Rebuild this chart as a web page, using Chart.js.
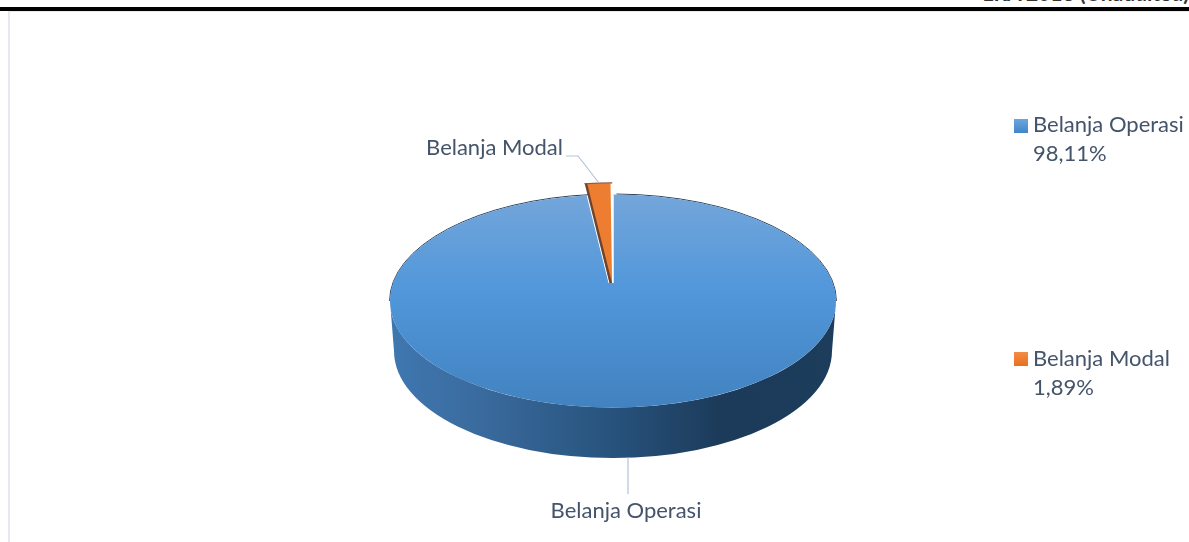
<!DOCTYPE html>
<html>
<head>
<meta charset="utf-8">
<style>
  html, body { margin: 0; padding: 0; background: #fff; overflow: hidden; }
  #wrap { position: relative; width: 1189px; height: 542px; overflow: hidden; }
  #topText { position: absolute; right: 0; top: -20px; font: bold 21px Lato, sans-serif; color: #333; white-space: nowrap; }
  #topRule { position: absolute; left: 0; right: 0; top: 7px; height: 3.5px; background: #000; }
  #frameTop { position: absolute; left: 9px; right: 0; top: 10.5px; height: 1px; background: #e6eaf0; }
  #frameLeft { position: absolute; left: 8px; top: 11px; bottom: 0; width: 2px; background: #e6eaf0; }
  canvas { position: absolute; left: 0; top: 0; }
</style>
</head>
<body>
<div id="wrap">
  <div id="topText">LRA 2018 (Unaudited)</div>
  <div id="topRule"></div>
  <div id="frameTop"></div>
  <div id="frameLeft"></div>
  <canvas id="js-chart-belanja" width="1189" height="542"></canvas>
</div>
<script src="https://cdn.jsdelivr.net/npm/chart.js@4/dist/chart.umd.min.js"></script>
<script>
// Chart data
const categories = ['Belanja Operasi', 'Belanja Modal'];
const shareValues = [98.11, 1.89];
const shareLabels = ['98,11%', '1,89%'];
const sliceColors = ['#5296d8', '#ed7d31'];

const labelFont = '22px Lato, sans-serif';
const textColor = '#44546a';
const pieRadius = 223;
const squash = 0.478;    // pie tilt, height / width of the top face
const wallDepth = 50;

function faceGradient(ctx, y, r) {
  const g = ctx.createLinearGradient(0, y - r, 0, y + r);
  g.addColorStop(0, '#74a6da');
  g.addColorStop(0.45, '#5197da');
  g.addColorStop(1, '#4282c0');
  return g;
}

function swatchGradient(ctx, top, size, from, to) {
  const g = ctx.createLinearGradient(0, top, 0, top + size);
  g.addColorStop(0, from);
  g.addColorStop(1, to);
  return g;
}

// Tilts the flat pie and draws the side wall under it
const tiltPlugin = {
  id: 'tilt',
  beforeDatasetsDraw(chart) {
    const ctx = chart.ctx;
    const arc = chart.getDatasetMeta(0).data[0];
    const x = arc.x, y = arc.y, r = arc.outerRadius;

    // side wall
    const wall = ctx.createLinearGradient(x - r, 0, x + r, 0);
    wall.addColorStop(0, '#3f77b0');
    wall.addColorStop(0.2, '#3a6b9e');
    wall.addColorStop(0.5, '#27527c');
    wall.addColorStop(0.75, '#1c3a59');
    wall.addColorStop(1, '#1d3d5d');
    ctx.save();
    ctx.fillStyle = wall;
    ctx.beginPath();
    ctx.ellipse(x, y, r, r * squash, 0, Math.PI, 0, true);
    ctx.ellipse(x, y + wallDepth, r - 4, r * squash + 0.5, 0, 0, Math.PI);
    ctx.closePath();
    ctx.fill();
    ctx.restore();

    // thin dark rim at the back
    ctx.save();
    ctx.strokeStyle = '#2a4058';
    ctx.lineWidth = 1;
    ctx.beginPath();
    ctx.ellipse(x, y, r + 0.4, r * squash + 0.4, 0, Math.PI * 1.0, Math.PI * 1.47);
    ctx.stroke();
    ctx.beginPath();
    ctx.ellipse(x, y, r + 0.4, r * squash + 0.4, 0, Math.PI * 1.505, Math.PI * 2);
    ctx.stroke();
    ctx.restore();

    ctx.save();
    ctx.translate(0, y);
    ctx.scale(1, squash);
    ctx.translate(0, -y);
  },
  afterDatasetsDraw(chart) {
    const ctx = chart.ctx;

    // dark cut face on the left of the lifted slice, and its back edge
    const slice = chart.getDatasetMeta(0).data[1];
    const shift = slice.options.offset / 4;
    const mid = (slice.startAngle + slice.endAngle) / 2;
    const sx = slice.x + Math.cos(mid) * shift + 1.5;
    const sy = slice.y + Math.sin(mid) * shift;
    const sr = slice.outerRadius + shift;
    ctx.save();
    ctx.strokeStyle = '#6a4430';
    ctx.lineWidth = 2.5;
    ctx.beginPath();
    ctx.moveTo(sx + Math.cos(slice.startAngle) * sr, sy + Math.sin(slice.startAngle) * sr);
    ctx.lineTo(sx, sy);
    ctx.stroke();
    ctx.lineWidth = 2.5;
    ctx.strokeStyle = '#8a5a3e';
    ctx.beginPath();
    ctx.arc(sx - 1.5, sy, sr - 1, slice.startAngle, slice.endAngle);
    ctx.stroke();
    ctx.restore();

    ctx.restore();

    const arc = chart.getDatasetMeta(0).data[0];
    const x = arc.x, y = arc.y, r = arc.outerRadius;

    // the notch closes above the ellipse centre because of the perspective
    ctx.save();
    ctx.beginPath();
    ctx.rect(x - 40, y - 18, 80, 40);
    ctx.clip();
    ctx.translate(0, y);
    ctx.scale(1, squash);
    ctx.translate(0, -y);
    ctx.fillStyle = faceGradient(ctx, y, r);
    ctx.beginPath();
    ctx.arc(x, y, r, 0, Math.PI * 2);
    ctx.fill();
    ctx.restore();

    // white seam right of the lifted slice
    ctx.save();
    ctx.strokeStyle = '#ffffff';
    ctx.lineWidth = 1.5;
    ctx.beginPath();
    ctx.moveTo(x, y - r * squash);
    ctx.lineTo(x, y - 18);
    ctx.stroke();
    ctx.restore();
  }
};

// Category labels with their leader lines, and the legend on the right
const labelPlugin = {
  id: 'labels',
  afterDraw(chart) {
    const ctx = chart.ctx;
    const arc = chart.getDatasetMeta(0).data[0];
    const y = arc.y, r = arc.outerRadius;

    ctx.save();
    ctx.font = labelFont;
    ctx.fillStyle = textColor;
    ctx.textBaseline = 'middle';

    ctx.textAlign = 'center';
    ctx.fillText(categories[0], 626, 511);
    ctx.textAlign = 'right';
    ctx.fillText(categories[1], 563, 148);

    ctx.strokeStyle = '#b4c3d6';
    ctx.lineWidth = 1.2;
    ctx.beginPath();
    ctx.moveTo(628, y + r * squash + wallDepth);
    ctx.lineTo(628, 494);
    ctx.moveTo(566, 156);
    ctx.lineTo(578, 156);
    ctx.lineTo(599, 183);
    ctx.stroke();

    // legend
    const legendY = [125, 359];
    const swatchTop = [119, 352];
    const swatchShades = [['#6ea6dc', '#3f86ca'], ['#f28c47', '#ea701e']];
    ctx.textAlign = 'left';
    categories.forEach((name, i) => {
      ctx.fillStyle = swatchGradient(ctx, swatchTop[i], 14, swatchShades[i][0], swatchShades[i][1]);
      ctx.fillRect(1014, swatchTop[i], 14, 14);
      ctx.fillStyle = textColor;
      ctx.fillText(name, 1033, legendY[i]);
      ctx.fillText(shareLabels[i], 1033, legendY[i] + 29);
    });
    ctx.restore();
  }
};

new Chart(document.getElementById('js-chart-belanja'), {
  type: 'pie',
  data: {
    labels: categories,
    datasets: [{
      data: shareValues,
      backgroundColor(context) {
        if (context.dataIndex === 1) return sliceColors[1];
        const area = context.chart.chartArea;
        if (!area) return sliceColors[0];
        return faceGradient(context.chart.ctx, (area.top + area.bottom) / 2, pieRadius);
      },
      borderWidth: 0,
      offset: [0, 50]
    }]
  },
  options: {
    responsive: false,
    animation: false,
    radius: pieRadius,
    layout: { padding: { left: 37, top: 60 } },
    plugins: {
      legend: { display: false },
      tooltip: { enabled: false }
    }
  },
  plugins: [tiltPlugin, labelPlugin]
});
</script>
</body>
</html>
